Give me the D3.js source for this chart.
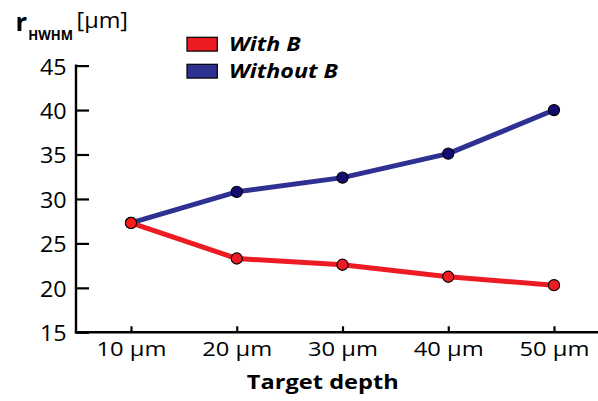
<!DOCTYPE html>
<html><head><meta charset="utf-8">
<script src="https://cdn.jsdelivr.net/npm/d3@7/dist/d3.min.js"></script>
<style>
html,body{margin:0;padding:0;background:#fff;}
svg{display:block;font-family:"Open Sans",sans-serif;}
</style></head>
<body>
<script>
const categories = ["10 µm","20 µm","30 µm","40 µm","50 µm"];
const withB = [27.3, 23.3, 22.6, 21.25, 20.3];
const withoutB = [27.3, 30.8, 32.4, 35.1, 40.0];
const yTicks = [15,20,25,30,35,40,45];
const seriesNames = ["With B","Without B"];

const W = 598, H = 401;
const svg = d3.select("body").append("svg").attr("width",W).attr("height",H);

const x = d3.scalePoint().domain(categories).range([131,554]);
const y = d3.scaleLinear().domain([15,45]).range([332.3,65.6]);
const axisX0 = 76;

function stretchBy(node, s){
  const ax = +node.getAttribute("x") || 0, ay = +node.getAttribute("y") || 0;
  node.setAttribute("transform", `translate(${ax},${ay}) scale(${s},1) translate(${-ax},${-ay})`);
}
function stretchTo(node, targetW){
  const s = targetW / node.getComputedTextLength();
  stretchBy(node, s);
  return s;
}

// y axis
const gy = svg.append("g").attr("transform",`translate(${axisX0},0)`)
  .call(d3.axisLeft(y).tickValues(yTicks).tickSizeInner(-13).tickSizeOuter(0).tickPadding(9.3).tickFormat(d3.format("d")));
gy.select(".domain").remove();
gy.selectAll(".tick line").attr("stroke","#000").attr("stroke-width",2.2);
const yTexts = gy.selectAll(".tick text").attr("font-size",21).attr("fill","#000")
  .attr("font-family","Open Sans").attr("dy","0.4em");
const ys = 26.7 / yTexts.filter(d=>d===40).node().getComputedTextLength();
yTexts.each(function(){ stretchBy(this, ys); });
svg.append("line").attr("x1",axisX0).attr("x2",axisX0).attr("y1",y(45)-1).attr("y2",y(15)+1)
  .attr("stroke","#000").attr("stroke-width",2.4);

// x axis
const gx = svg.append("g").attr("transform",`translate(0,${y(15)})`)
  .call(d3.axisBottom(x).tickSizeInner(-6).tickSizeOuter(0).tickPadding(9.3));
gx.select(".domain").remove();
gx.selectAll(".tick line").attr("stroke","#000").attr("stroke-width",2.2);
const xTexts = gx.selectAll(".tick text").attr("font-size",20.5).attr("fill","#000").attr("font-family","Open Sans");
const xs = 70 / xTexts.filter(d=>d==="20 µm").node().getComputedTextLength();
xTexts.each(function(){ stretchBy(this, xs); });
svg.append("line").attr("x1",axisX0-1.2).attr("x2",W).attr("y1",y(15)).attr("y2",y(15))
  .attr("stroke","#000").attr("stroke-width",2.4);

// lines
const line = d3.line().x((d,i)=>x(categories[i])).y(d=>y(d));
svg.append("path").datum(withoutB).attr("d",line).attr("fill","none")
  .attr("stroke","#2e3192").attr("stroke-width",5).attr("stroke-linejoin","round");
svg.append("path").datum(withB).attr("d",line).attr("fill","none")
  .attr("stroke","#ed1c24").attr("stroke-width",5).attr("stroke-linejoin","round");

svg.append("g").selectAll("circle").data(withoutB).join("circle")
  .attr("cx",(d,i)=>x(categories[i])).attr("cy",d=>y(d)).attr("r",5.6)
  .attr("fill","#140c6e").attr("stroke","#000").attr("stroke-width",1.1);
svg.append("g").selectAll("circle").data(withB).join("circle")
  .attr("cx",(d,i)=>x(categories[i])).attr("cy",d=>y(d)).attr("r",5.6)
  .attr("fill",(d,i)=>i===0?"#ff1a1a":"#ed1c24").attr("stroke","#000").attr("stroke-width",1.1);

// legend
const legColors = ["#ed1c24","#2e3192"];
const leg = svg.append("g");
seriesNames.forEach((n,i)=>{
  const yy = 37.3 + i*27;
  leg.append("rect").attr("x",187).attr("y",yy).attr("width",30.3).attr("height",13.8)
    .attr("fill",legColors[i]).attr("stroke","#000").attr("stroke-width",1.2);
  leg.append("text").attr("x",229).attr("y",yy+14).text(n).attr("class","legtext")
    .attr("font-size",19).attr("font-weight","bold").attr("font-style","italic").attr("fill","#000");
});
const legTexts = leg.selectAll(".legtext");
const legScale = 109 / legTexts.filter(function(){return this.textContent==="Without B";}).node().getComputedTextLength();
legTexts.each(function(){ stretchBy(this, legScale); });

// y label
svg.append("text").attr("x",15.5).attr("y",31).attr("fill","#000")
  .attr("font-size",25.5).attr("font-weight","bold").text("r");
const sub = svg.append("text").attr("x",28.3).attr("y",40.3).attr("fill","#000")
  .attr("font-size",14).attr("font-weight","bold").text("HWHM");
stretchTo(sub.node(), 44.8);
const unit = svg.append("text").attr("x",76.5).attr("y",28.2).attr("fill","#000")
  .attr("font-size",22).text("[µm]");
stretchTo(unit.node(), 51.5);

// x label
const xl = svg.append("text").attr("x",322.8).attr("y",389).attr("text-anchor","middle")
  .attr("font-size",20).attr("font-weight","bold").attr("fill","#000").text("Target depth");
stretchTo(xl.node(), 152);
</script>
</body></html>
